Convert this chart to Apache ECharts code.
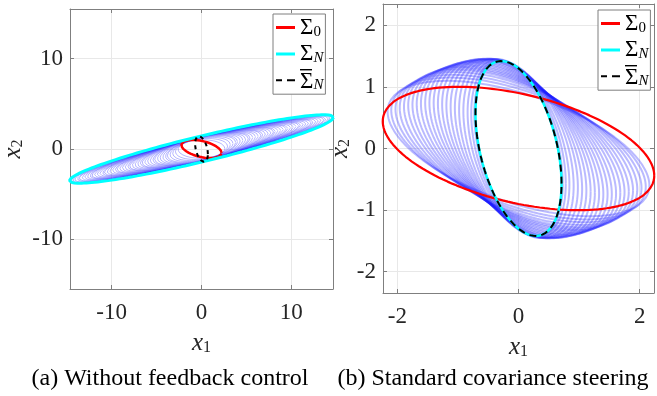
<!DOCTYPE html>
<html>
<head>
<meta charset="utf-8">
<script src="https://cdn.jsdelivr.net/npm/echarts@6/dist/echarts.min.js"></script>
<style>
html, body { margin: 0; padding: 0; background: #fff; }
#chart { width: 657px; height: 396px; }
</style>
</head>
<body>
<div id="chart"></div>
<script>
const sigma0 = [2.24, -0.44, 0.90];
const sigmaBarN = [0.71, -0.57, 1.30];
const sigmaNa = [14.7, 3.5, 1.45];
const sigmaNb = [0.71, -0.57, 1.30];

// (a) intermediate ellipses, without feedback
const stepXeA = [2.6, 2.9, 3.2, 3.5, 3.8, 4.0, 4.3, 4.6, 4.9, 5.2, 5.4, 5.7, 6.0, 6.3, 6.6, 6.8, 7.1, 7.4, 7.7, 8.0, 8.2, 8.5,
  8.8, 9.1, 9.4, 9.6, 9.9, 10.2, 10.5, 10.8, 11.0, 11.3, 11.6, 11.9, 12.2, 12.4, 12.7, 13.0, 13.3, 13.6, 13.8, 14.1, 14.3, 14.5];
const stepYxA = [0.05, 0.3, 0.48, 0.62, 0.74, 0.82, 0.91, 0.99, 1.07, 1.15, 1.21, 1.29, 1.37, 1.45, 1.53, 1.58, 1.66, 1.74, 1.82, 1.90, 1.95, 2.03,
  2.10, 2.18, 2.25, 2.30, 2.37, 2.45, 2.52, 2.59, 2.64, 2.71, 2.78, 2.85, 2.92, 2.97, 3.04, 3.11, 3.18, 3.25, 3.30, 3.37, 3.42, 3.47];
const stepHA = [1.02, 1.12, 1.19, 1.24, 1.28, 1.31, 1.33, 1.35, 1.36, 1.37, 1.38, 1.38, 1.39, 1.39, 1.40, 1.40, 1.40, 1.41, 1.41, 1.41, 1.41, 1.42,
  1.42, 1.42, 1.42, 1.42, 1.43, 1.43, 1.43, 1.43, 1.43, 1.43, 1.44, 1.44, 1.44, 1.44, 1.44, 1.44, 1.44, 1.45, 1.45, 1.45, 1.45, 1.45];

// (b) intermediate ellipses, standard covariance steering
const stepXeB = [2.16, 2.10, 2.03, 1.96, 1.89, 1.82, 1.75, 1.68, 1.61, 1.54, 1.47, 1.40, 1.33, 1.26, 1.19, 1.12, 1.05, 0.98, 0.91, 0.84, 0.78, 0.73];
const stepYxB = [-0.60, -0.62, -0.64, -0.66, -0.68, -0.70, -0.71, -0.72, -0.73, -0.74, -0.74, -0.74, -0.73, -0.72, -0.70, -0.68, -0.66, -0.63, -0.61, -0.59, -0.57, -0.57];
const stepHB = [0.92, 0.97, 1.01, 1.05, 1.08, 1.10, 1.12, 1.14, 1.16, 1.18, 1.20, 1.22, 1.24, 1.26, 1.27, 1.29, 1.30, 1.31, 1.32, 1.31, 1.30, 1.30];

const xTicksA = [-10, 0, 10];
const yTicksA = [-10, 0, 10];
const xTicksB = [-2, 0, 2];
const yTicksB = [-2, -1, 0, 1, 2];

const legendText = { S0: '{s|Σ}{n|0}', SN: '{s|Σ}{i|N}', SbarN: '{bar| }\n{t|Σ}{i|N}' };

const serif = 'Liberation Serif';
const axisGray = '#7f7f7f';
const textColor = '#262626';

// outline of the covariance ellipse from its cholesky factor
function ellipse(p) {
  const pts = [];
  for (let i = 0; i <= 160; i++) {
    const t = i / 160 * 2 * Math.PI;
    pts.push([p[0] * Math.cos(t), p[1] * Math.cos(t) + p[2] * Math.sin(t)]);
  }
  return pts;
}

function curve(name, p, idx, color, width, type, z) {
  return {
    name: name, type: 'line', xAxisIndex: idx, yAxisIndex: idx,
    data: ellipse(p), symbol: 'none', showSymbol: false, silent: true,
    animation: false, z: z, color: color,
    lineStyle: { color: color, width: width, type: type }
  };
}

const series = [];
for (let i = 0; i < stepXeA.length; i++) {
  series.push(curve('', [stepXeA[i], stepYxA[i], stepHA[i]], 0, 'rgba(40,40,255,0.34)', 1, 'solid', 2));
}
for (let i = 0; i < stepXeB.length; i++) {
  series.push(curve('', [stepXeB[i], stepYxB[i], stepHB[i]], 2, 'rgba(25,25,255,0.3)', 2, 'solid', 2));
}
series.push(curve('S0', sigma0, 0, '#ff0000', 2.5, 'solid', 3));
series.push(curve('SN', sigmaNa, 0, '#00ffff', 3, 'solid', 4));
series.push(curve('SbarN', sigmaBarN, 0, '#000000', 2, [4, 4], 5));
series.push(curve('S0', sigma0, 2, '#ff0000', 2.2, 'solid', 3));
series.push(curve('SN', sigmaNb, 2, '#00ffff', 2.5, 'solid', 4));
series.push(curve('SbarN', sigmaBarN, 2, '#000000', 2, [7, 5], 5));

const nameRich = {
  x: { fontFamily: serif, fontStyle: 'italic', fontSize: 25, color: textColor },
  s: { fontFamily: serif, fontSize: 16, color: textColor, verticalAlign: 'bottom', lineHeight: 14 }
};

function tickFmt(list) {
  return function (v) {
    for (const t of list) if (Math.abs(v - t) < 1e-6) return String(t);
    return '';
  };
}

function mainAxis(grid, pos, min, max, split, ticks, name, gap, rotate) {
  return {
    gridIndex: grid, type: 'value', position: pos, min: min, max: max, splitNumber: split,
    axisLine: { onZero: false, lineStyle: { color: axisGray, width: 1 } },
    axisTick: { inside: true, length: 4, lineStyle: { color: axisGray } },
    axisLabel: { margin: pos === 'bottom' ? 12 : 7, color: textColor, fontFamily: serif, fontSize: 23, formatter: tickFmt(ticks) },
    splitLine: { show: true, lineStyle: { color: '#e8e8e8', width: 1 } },
    name: name, nameLocation: 'middle', nameGap: gap, nameRotate: rotate,
    nameTextStyle: { rich: nameRich }
  };
}

function boxAxis(grid, pos, min, max, split) {
  return {
    gridIndex: grid, type: 'value', position: pos, min: min, max: max, splitNumber: split,
    axisLine: { onZero: false, lineStyle: { color: axisGray, width: 1 } },
    axisTick: { inside: true, length: 4, lineStyle: { color: axisGray } },
    axisLabel: { show: false }, splitLine: { show: false }
  };
}

const legendRich = {
  s: { fontFamily: serif, fontSize: 23, color: '#000', lineHeight: 24 },
  t: { fontFamily: serif, fontSize: 23, color: '#000', lineHeight: 21 },
  bar: { width: 12, height: 1.4, lineHeight: 3, backgroundColor: '#000', fontSize: 1 },
  n: { fontFamily: serif, fontSize: 15, color: '#000', verticalAlign: 'bottom', lineHeight: 13 },
  i: { fontFamily: serif, fontStyle: 'italic', fontSize: 15, color: '#000', verticalAlign: 'bottom', lineHeight: 13 }
};

function legend(left, top) {
  return {
    left: left, top: top, orient: 'vertical', selectedMode: false,
    backgroundColor: '#fff', borderColor: axisGray, borderWidth: 1,
    padding: [2, 2, 1, 3], itemGap: 3, itemWidth: 19, itemHeight: 3,
    textStyle: { rich: legendRich }, formatter: n => legendText[n],
    data: [
      { name: 'S0', icon: 'rect' },
      { name: 'SN', icon: 'rect' },
      { name: 'SbarN', icon: 'path://M0,0H6V2H0Z M11,0H19V2H11Z' }
    ]
  };
}

const chart = echarts.init(document.getElementById('chart'), null, { renderer: 'canvas' });
chart.setOption({
  backgroundColor: '#fff',
  animation: false,
  grid: [
    { left: 68, top: 9, width: 265, height: 280 },
    { left: 383, top: 4, width: 275, height: 289 }
  ],
  xAxis: [
    mainAxis(0, 'bottom', -14.64, 14.64, 3, xTicksA, '{x|x}{s|1}', 42, 0),
    boxAxis(0, 'top', -14.64, 14.64, 3),
    mainAxis(1, 'bottom', -2.236, 2.236, 2, xTicksB, '{x|x}{s|1}', 42, 0),
    boxAxis(1, 'top', -2.236, 2.236, 2)
  ],
  yAxis: [
    mainAxis(0, 'left', -15.5, 15.5, 3, yTicksA, '{x|x}{s|2}', 44, 90),
    boxAxis(0, 'right', -15.5, 15.5, 3),
    mainAxis(1, 'left', -2.345, 2.345, 5, yTicksB, '{x|x}{s|2}', 27, 90),
    boxAxis(1, 'right', -2.345, 2.345, 5)
  ],
  legend: [legend(273, 14), legend(598, 10)],
  graphic: [
    { type: 'text', x: 170, y: 379, style: { text: '(a) Without feedback control', fontFamily: serif, fontSize: 24, fill: '#000', align: 'center', verticalAlign: 'middle' } },
    { type: 'text', x: 493, y: 379, style: { text: '(b) Standard covariance steering', fontFamily: serif, fontSize: 24, fill: '#000', align: 'center', verticalAlign: 'middle' } }
  ],
  series: series
});
</script>
</body>
</html>
